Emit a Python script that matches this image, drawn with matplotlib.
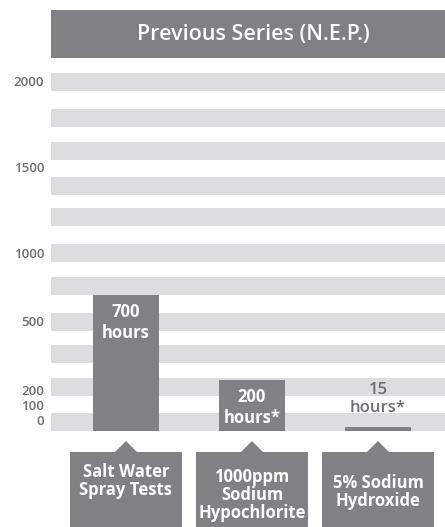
import numpy as np
import matplotlib
matplotlib.use("Agg")
import matplotlib.pyplot as plt
from matplotlib.patches import Rectangle, Polygon
from matplotlib.transforms import blended_transform_factory

# ---------------- data ----------------
title = "Previous Series (N.E.P.)"
categories = ["Salt Water\nSpray Tests", "1000ppm\nSodium\nHypochlorite", "5% Sodium\nHydroxide"]
hours = [700, 200, 15]
hour_notes = ["hours", "hours*", "hours*"]
y_ticks = [0, 100, 200, 500, 1000, 1500, 2000]
y_tick_labels = ["0", "100", "200", "500", "1000", "1500", "2000"]

# ---------------- style / layout ----------------
W, H = 445, 527
DARK = "#808184"
LIGHT = "#dcdddf"
TXT = "#6d6e71"
FONT = ["Open Sans", "DejaVu Sans"]
plt.rcParams["font.family"] = FONT

plot_left, plot_right = 51, 445
plot_bottom_px, plot_top_px = 431, 82
stripe_tops = [73, 109, 142, 177, 208, 244, 277, 313, 345, 378, 413]
stripe_h = 18
# pixel rows of the broken (non-linear) value axis at each tick value
tick_rows = [431, 406, 380, 322, 254, 168, 82]
tick_nudge_pt = {0: 6.5, 200: -8.0}
label_centers = [481, 495, 492]

fig = plt.figure(figsize=(W / 100, H / 100), dpi=100)
bg = fig.add_axes([0, 0, 1, 1])
bg.set_xlim(0, W)
bg.set_ylim(H, 0)
bg.axis("off")

for top in stripe_tops:
    bg.add_patch(Rectangle((plot_left, top), plot_right - plot_left, stripe_h,
                           facecolor=LIGHT, lw=0))
bg.add_patch(Rectangle((51, 10), 394, 48, facecolor=DARK, lw=0))
bg.text(253, 34.5, title, color="white", fontsize=15.5, ha="center", va="center",
        fontweight="semibold")

# non-linear scale
knot_v = np.array(y_ticks, float)
knot_h = np.array([plot_bottom_px - r for r in tick_rows], float)


def _pw(x, xp, fp):
    x = np.asarray(x, float)
    y = np.interp(x, xp, fp)
    s_lo = (fp[1] - fp[0]) / (xp[1] - xp[0])
    s_hi = (fp[-1] - fp[-2]) / (xp[-1] - xp[-2])
    y = np.where(x < xp[0], fp[0] + (x - xp[0]) * s_lo, y)
    y = np.where(x > xp[-1], fp[-1] + (x - xp[-1]) * s_hi, y)
    return y


fwd = lambda v: _pw(v, knot_v, knot_h)
inv = lambda h: _pw(h, knot_h, knot_v)

ax = fig.add_axes([plot_left / W, (H - plot_bottom_px) / H,
                   (plot_right - plot_left) / W, (plot_bottom_px - plot_top_px) / H])
ax.set_facecolor("none")
for s in ax.spines.values():
    s.set_visible(False)
ax.set_yscale("function", functions=(fwd, inv))
ax.set_ylim(0, 2000)
ax.set_xlim(-0.595, 2.532)
ax.set_xticks([])
ax.set_yticks([])

x = np.arange(len(hours))
ax.bar(x, hours, width=0.524, color=DARK, lw=0)

for v, lab in zip(y_ticks, y_tick_labels):
    ax.annotate(lab, xy=(0, v), xycoords=("axes fraction", "data"),
                xytext=(-5, tick_nudge_pt.get(v, 0)), textcoords="offset points",
                ha="right", va="center", fontsize=9.5, color=TXT, fontweight="semibold",
                annotation_clip=False)

for i, (v, note) in enumerate(zip(hours, hour_notes)):
    txt = f"{v}\n{note}"
    if v >= 100:
        ax.annotate(txt, xy=(i, v), xytext=(0, -6), textcoords="offset points",
                    ha="center", va="top", color="white", fontsize=12,
                    fontweight="bold", linespacing=1.2)
    else:
        ax.annotate(txt, xy=(i, v), xytext=(0, 8), textcoords="offset points",
                    ha="center", va="bottom", color=TXT, fontsize=12,
                    fontweight="semibold", linespacing=1.2)

trans = blended_transform_factory(ax.transData, bg.transData)
hw, nw = 56 / 126, 11 / 126
for i, (cat, yc) in enumerate(zip(categories, label_centers)):
    verts = [(i - hw, H + 5), (i - hw, 452), (i - nw, 452), (i, 441),
             (i + nw, 452), (i + hw, 452), (i + hw, H + 5)]
    ax.add_patch(Polygon(verts, closed=True, facecolor=DARK, lw=0,
                         transform=trans, clip_on=False))
    ax.text(i, yc, cat, transform=trans, ha="center", va="center", color="white",
            fontsize=12, fontweight="bold", linespacing=0.97, clip_on=False)

fig.savefig("out.png", dpi=100)
